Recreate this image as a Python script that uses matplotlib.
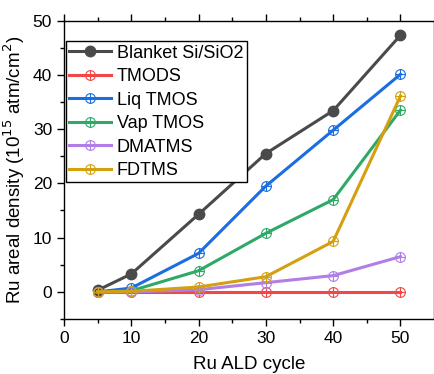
import matplotlib
matplotlib.use("Agg")
import matplotlib.pyplot as plt
from matplotlib.path import Path
import numpy as np

plt.rcParams['font.family'] = ['Liberation Sans', 'DejaVu Sans']

cycles = [5, 10, 20, 30, 40, 50]
blanket = [0.3, 3.3, 14.3, 25.5, 33.4, 47.3]
tmods = [0.0, 0.0, 0.0, 0.0, 0.0, 0.0]
liq_tmos = [0.0, 0.7, 7.1, 19.5, 29.8, 40.1]
vap_tmos = [0.0, 0.2, 3.9, 10.8, 17.0, 33.5]
dmatms = [0.0, 0.0, 0.4, 1.7, 3.0, 6.5]
fdtms = [0.0, 0.1, 0.9, 2.8, 9.3, 36.1]

labels = ["Blanket Si/SiO2", "TMODS", "Liq TMOS", "Vap TMOS", "DMATMS", "FDTMS"]
colors = ["#4a4a4a", "#f04848", "#1a6ee0", "#2eaa66", "#b07ee6", "#d4a010"]

circ = Path.unit_circle()
cross = Path([(-1, 0), (1, 0), (0, -1), (0, 1)],
             [Path.MOVETO, Path.LINETO, Path.MOVETO, Path.LINETO])
oplus = Path.make_compound_path(circ, cross)

fig = plt.figure(figsize=(4.35, 3.74), dpi=100)
ax = fig.add_axes([0.147, 0.147, 0.851, 0.798])

series = [blanket, tmods, liq_tmos, vap_tmos, dmatms, fdtms]
for i, (vals, lab, c) in enumerate(zip(series, labels, colors)):
    if i == 0:
        ax.plot(cycles, vals, color=c, lw=2.2, marker='o', ms=7.5, mfc=c, mec=c,
                label=lab, zorder=3)
    else:
        ax.plot(cycles, vals, color=c, lw=2.2, marker=oplus, ms=7, mfc='none',
                mec=c, mew=0.8, label=lab, zorder=3 + i)

ax.set_xlim(0, 55)
ax.set_ylim(-5, 50)
ax.set_xticks([0, 10, 20, 30, 40, 50])
ax.set_yticks([0, 10, 20, 30, 40, 50])
ax.set_xticks(np.arange(5, 55, 10), minor=True)
ax.set_yticks(np.arange(-5, 50, 10), minor=True)
ax.tick_params(which='major', direction='out', length=5, width=1, labelsize=12.5,
               top=True, right=True, labeltop=False, labelright=False)
ax.tick_params(which='minor', direction='out', length=3, width=1,
               top=True, right=True)
for s in ax.spines.values():
    s.set_linewidth(1.0)

ax.set_xlabel("Ru ALD cycle", fontsize=13.5, labelpad=7)
ax.set_ylabel("Ru areal density (10$^{15}$ atm/cm$^{2}$)", fontsize=13.5, labelpad=4)

leg = ax.legend(loc='upper left', bbox_to_anchor=(0.005, 0.93), fontsize=13,
                frameon=True, fancybox=False,
                edgecolor='black', framealpha=1, handlelength=2.3,
                borderpad=0.18, labelspacing=0.36, handletextpad=0.35,
                borderaxespad=0.0)
leg.get_frame().set_linewidth(1.0)

fig.savefig("out.png", dpi=100)
